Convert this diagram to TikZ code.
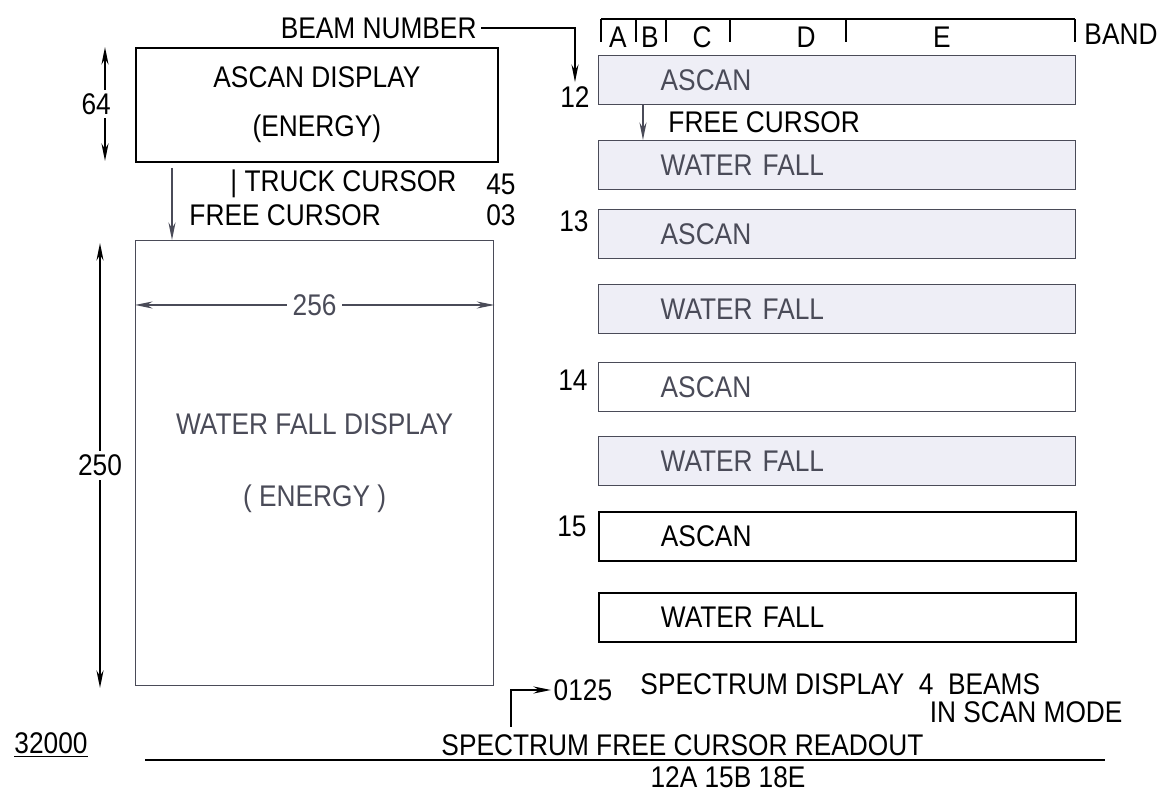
\documentclass[tikz,border=0pt]{standalone}
\usepackage{fontspec}
\setmainfont{Liberation Sans}[FakeStretch=0.88]
\usepackage{xcolor}
\usetikzlibrary{arrows.meta,positioning,calc}

\definecolor{penGray}{HTML}{4A4B58}
\definecolor{paleFill}{HTML}{EEEEF6}

\begin{document}
\begin{tikzpicture}[x=0.02cm, y=-0.02cm, >={Stealth[length=10pt,width=4pt]}, line width=1.1pt,
  every node/.style={font=\fontsize{17}{20}\selectfont, inner sep=2pt},
  dispbox/.style={draw, rectangle, inner sep=0pt, anchor=north west, align=center},
  beambox/.style={draw=penGray, text=penGray, fill=paleFill, rectangle, anchor=north west,
    line width=0.8pt, minimum height=0.98cm, text width=7.06cm, inner xsep=1.24cm, align=left},
  plainbox/.style={beambox, fill=white},
  inkbox/.style={beambox, draw=black, text=black, fill=white, line width=1.1pt},
  beamnum/.style={anchor=center},
  dimlabel/.style={fill=white, inner xsep=3pt}]

  \useasboundingbox (0,0) rectangle (1161,793);

  % left hand displays
  \node[dispbox, minimum width=7.24cm, minimum height=2.28cm,
        font=\fontsize{17}{28}\selectfont] (ascanDisp) at (135,47) {ASCAN DISPLAY\\(ENERGY)};
  \node[dispbox, draw=penGray, text=penGray, line width=0.8pt, minimum width=7.16cm, minimum height=8.9cm,
        font=\fontsize{17}{41}\selectfont] (wfDisp) at (135,240) {WATER FALL DISPLAY\\( ENERGY )};

  % dimensions
  \coordinate (dim64a) at (105,47);
  \coordinate (dim64b) at (105,161);
  \draw[<->] (dim64a) -- node[dimlabel, xshift=-5pt] {64} (dim64b);
  \coordinate (dim250a) at (100,243);
  \coordinate (dim250b) at (100,688);
  \draw[<->] (dim250a) -- node[dimlabel] {250} (dim250b);
  \path (wfDisp.north west) ++(0,65) coordinate (dim256a);
  \path (wfDisp.north east) ++(0,65) coordinate (dim256b);
  \draw[<->, penGray, line width=0.8pt] (dim256a) -- node[dimlabel, text=penGray] {256} (dim256b);

  % cursors
  \node[anchor=west] (truck) at (226,184) {\textbar\ TRUCK CURSOR};
  \node (truckVal) at (501,184) {45};
  \node[anchor=west] (freeCur) at (185,215) {FREE CURSOR};
  \node (freeVal) at (501,215) {03};
  \coordinate (freeTop) at (172,168);
  \draw[->, penGray, line width=0.8pt] (freeTop) -- (freeTop |- wfDisp.north);

  % band header
  \draw (601,19) -- (1075,19);
  \foreach \t in {601,636,666,730,846,1075}
    \draw (\t,19) -- (\t,42);
  \foreach \l/\x in {A/618,B/650,C/702,D/806,E/942}
    \node (band\l) at (\x,37) {\l};
  \node[anchor=west] (bandLbl) at (1080,34) {BAND};

  % beams
  \node[beamnum] (n12) at (575,97) {12};
  \node[beambox] (a12) at (598,55) {ASCAN};
  \node[beambox] (w12) at (598,140) {WATER FALL};
  \node[beamnum] (n13) at (574,221) {13};
  \node[beambox] (a13) at (598,209) {ASCAN};
  \node[beambox] (w13) at (598,284) {WATER FALL};
  \node[beamnum] (n14) at (573,380) {14};
  \node[plainbox] (a14) at (598,362) {ASCAN};
  \node[beambox] (w14) at (598,436) {WATER FALL};
  \node[beamnum] (n15) at (572,526) {15};
  \node[inkbox] (a15) at (598,511) {ASCAN};
  \node[inkbox] (w15) at (598,592) {WATER FALL};

  \node[anchor=east] (beamNo) at (481,28) {BEAM NUMBER};
  \draw[->] (beamNo.east) -| (n12.north);

  \draw[->, penGray, line width=0.8pt] ([xshift=0.9cm]a12.south west) -- ([xshift=0.9cm]w12.north west);
  \node[anchor=west] (freeCurR) at (664,122) {FREE CURSOR};

  % readouts
  \node[anchor=west, inner xsep=1pt] (val0125) at (551,690) {0125};
  \coordinate (readFoot) at (511,727);
  \draw[->] (readFoot) |- (val0125.west);
  \node[anchor=west] (specDisp) at (636,684) {SPECTRUM DISPLAY \ 4 \ BEAMS};
  \node[anchor=east] (scanMode) at (1127,712) {IN SCAN MODE};
  \node[anchor=west] (specRead) at (437,745) {SPECTRUM FREE CURSOR READOUT};
  \node (scaleVal) at (51,745) {\underline{32000}};
  \coordinate (baseL) at (145,760);
  \coordinate (baseR) at (1105,760);
  \draw (baseL) -- (baseR);
  \node[inner sep=0pt] (beamRead) at (728,777) {12A 15B 18E};
\end{tikzpicture}
\end{document}
